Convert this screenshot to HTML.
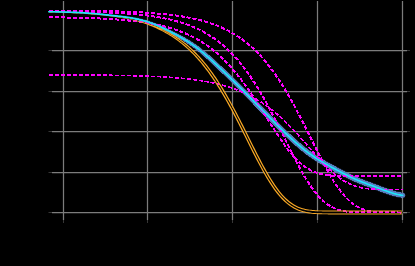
<!DOCTYPE html>
<html><head><meta charset="utf-8"><title>chart</title>
<style>html,body{margin:0;padding:0;background:#000;width:415px;height:266px;overflow:hidden;font-family:"Liberation Sans",sans-serif}</style></head>
<body>
<svg width="415" height="266" viewBox="0 0 415 266" style="position:absolute;left:0;top:0;display:block">
<rect width="415" height="266" fill="#000"/>
<line x1="63.5" y1="1" x2="63.5" y2="220" stroke="#7c7c7c" stroke-width="1.25"/>
<line x1="63.5" y1="220" x2="63.5" y2="223" stroke="#363636" stroke-width="1"/>
<line x1="147.5" y1="1" x2="147.5" y2="220" stroke="#7c7c7c" stroke-width="1.25"/>
<line x1="147.5" y1="220" x2="147.5" y2="223" stroke="#363636" stroke-width="1"/>
<line x1="232.5" y1="1" x2="232.5" y2="220" stroke="#7c7c7c" stroke-width="1.25"/>
<line x1="232.5" y1="220" x2="232.5" y2="223" stroke="#363636" stroke-width="1"/>
<line x1="317.5" y1="1" x2="317.5" y2="220" stroke="#7c7c7c" stroke-width="1.25"/>
<line x1="317.5" y1="220" x2="317.5" y2="223" stroke="#363636" stroke-width="1"/>
<line x1="402.5" y1="1" x2="402.5" y2="220" stroke="#7c7c7c" stroke-width="1.25"/>
<line x1="402.5" y1="220" x2="402.5" y2="223" stroke="#363636" stroke-width="1"/>
<line x1="52" y1="50.5" x2="407" y2="50.5" stroke="#7c7c7c" stroke-width="1.25"/>
<line x1="48.5" y1="50.5" x2="52" y2="50.5" stroke="#363636" stroke-width="1"/>
<line x1="407" y1="50.5" x2="410" y2="50.5" stroke="#363636" stroke-width="1"/>
<line x1="52" y1="91.5" x2="407" y2="91.5" stroke="#7c7c7c" stroke-width="1.25"/>
<line x1="48.5" y1="91.5" x2="52" y2="91.5" stroke="#363636" stroke-width="1"/>
<line x1="407" y1="91.5" x2="410" y2="91.5" stroke="#363636" stroke-width="1"/>
<line x1="52" y1="131.5" x2="407" y2="131.5" stroke="#7c7c7c" stroke-width="1.25"/>
<line x1="48.5" y1="131.5" x2="52" y2="131.5" stroke="#363636" stroke-width="1"/>
<line x1="407" y1="131.5" x2="410" y2="131.5" stroke="#363636" stroke-width="1"/>
<line x1="52" y1="172.5" x2="407" y2="172.5" stroke="#7c7c7c" stroke-width="1.25"/>
<line x1="48.5" y1="172.5" x2="52" y2="172.5" stroke="#363636" stroke-width="1"/>
<line x1="407" y1="172.5" x2="410" y2="172.5" stroke="#363636" stroke-width="1"/>
<line x1="52" y1="212.5" x2="407" y2="212.5" stroke="#7c7c7c" stroke-width="1.25"/>
<line x1="48.5" y1="212.5" x2="52" y2="212.5" stroke="#363636" stroke-width="1"/>
<line x1="407" y1="212.5" x2="410" y2="212.5" stroke="#363636" stroke-width="1"/>
<path d="M48.79,12.23 L50.27,12.26 L51.75,12.28 L53.23,12.31 L54.71,12.33 L56.19,12.36 L57.67,12.40 L59.15,12.43 L60.63,12.47 L62.11,12.50 L63.59,12.54 L65.07,12.59 L66.55,12.63 L68.03,12.68 L69.51,12.74 L70.99,12.79 L72.47,12.85 L73.95,12.92 L75.43,12.99 L76.91,13.06 L78.39,13.13 L79.86,13.21 L81.34,13.30 L82.82,13.39 L84.30,13.49 L85.78,13.59 L87.26,13.69 L88.74,13.80 L90.21,13.92 L91.69,14.04 L93.17,14.17 L94.65,14.30 L96.13,14.43 L97.61,14.57 L99.08,14.72 L100.56,14.87 L102.04,15.02 L103.52,15.18 L105.00,15.34 L106.48,15.50 L107.96,15.67 L109.44,15.83 L110.92,16.00 L112.40,16.17 L113.88,16.35 L115.36,16.52 L116.84,16.70 L118.31,16.88 L119.79,17.06 L121.27,17.25 L122.75,17.44 L124.23,17.64 L125.70,17.86 L127.17,18.09 L128.65,18.33 L130.12,18.59 L131.59,18.86 L133.05,19.14 L134.52,19.44 L135.99,19.76 L137.45,20.09 L138.92,20.44 L140.38,20.82 L141.84,21.21 L143.30,21.63 L144.76,22.07 L146.22,22.53 L147.68,23.02 L149.14,23.53 L150.60,24.06 L152.05,24.62 L153.51,25.21 L154.96,25.81 L156.42,26.44 L157.88,27.10 L159.33,27.77 L160.79,28.46 L162.24,29.18 L163.70,29.91 L165.16,30.65 L166.62,31.41 L168.08,32.19 L169.54,32.97 L171.00,33.77 L172.47,34.57 L173.93,35.39 L175.39,36.21 L176.85,37.04 L178.31,37.88 L179.76,38.73 L181.22,39.59 L182.67,40.47 L184.12,41.36 L185.57,42.27 L187.01,43.21 L188.46,44.16 L189.90,45.15 L191.34,46.16 L192.78,47.20 L194.21,48.28 L195.65,49.38 L197.09,50.53 L198.53,51.70 L199.98,52.89 L201.44,54.11 L202.90,55.36 L204.36,56.63 L205.82,57.93 L207.28,59.25 L208.75,60.58 L210.22,61.94 L211.69,63.30 L213.16,64.68 L214.63,66.06 L216.10,67.45 L217.57,68.85 L219.05,70.25 L220.52,71.65 L221.99,73.05 L223.46,74.46 L224.94,75.87 L226.41,77.29 L227.88,78.71 L229.35,80.13 L230.82,81.57 L232.29,83.01 L233.76,84.46 L235.23,85.92 L236.70,87.38 L238.17,88.86 L239.64,90.34 L241.11,91.82 L242.59,93.31 L244.06,94.81 L245.53,96.31 L247.00,97.82 L248.48,99.33 L249.95,100.84 L251.42,102.36 L252.89,103.88 L254.37,105.40 L255.84,106.92 L257.32,108.44 L258.80,109.96 L260.28,111.47 L261.76,112.98 L263.24,114.49 L264.72,116.00 L266.21,117.50 L267.69,119.00 L269.17,120.49 L270.65,121.99 L272.14,123.48 L273.62,124.96 L275.10,126.44 L276.59,127.91 L278.08,129.38 L279.56,130.83 L281.05,132.28 L282.54,133.72 L284.02,135.14 L285.51,136.55 L287.00,137.95 L288.49,139.34 L289.98,140.71 L291.47,142.06 L292.97,143.40 L294.46,144.73 L295.96,146.03 L297.45,147.31 L298.95,148.57 L300.45,149.81 L301.95,151.02 L303.45,152.21 L304.96,153.37 L306.46,154.50 L307.96,155.61 L309.47,156.69 L310.97,157.75 L312.47,158.77 L313.98,159.78 L315.49,160.75 L316.99,161.70 L318.49,162.63 L320.00,163.53 L321.50,164.41 L323.00,165.27 L324.50,166.12 L325.99,166.94 L327.48,167.76 L328.97,168.57 L330.45,169.37 L331.94,170.16 L333.42,170.96 L334.90,171.75 L336.38,172.54 L337.87,173.33 L339.35,174.11 L340.84,174.89 L342.33,175.67 L343.82,176.44 L345.31,177.20 L346.81,177.95 L348.31,178.69 L349.81,179.42 L351.31,180.12 L352.81,180.81 L354.32,181.48 L355.82,182.13 L357.33,182.77 L358.83,183.38 L360.33,183.97 L361.83,184.55 L363.33,185.12 L364.82,185.67 L366.31,186.22 L367.79,186.76 L369.27,187.30 L370.74,187.85 L372.22,188.39 L373.69,188.94 L375.16,189.50 L376.64,190.06 L378.12,190.62 L379.60,191.19 L381.08,191.76 L382.57,192.33 L384.06,192.89 L385.56,193.44 L387.07,193.98 L388.58,194.49 L390.10,194.99 L391.62,195.46 L393.15,195.90 L394.68,196.30 L396.22,196.67 L397.76,197.01 L399.30,197.30 L400.83,197.56 L402.34,197.78 L403.06,192.83 L401.60,192.62 L400.18,192.38 L398.76,192.11 L397.33,191.80 L395.91,191.46 L394.48,191.08 L393.05,190.67 L391.61,190.23 L390.16,189.76 L388.71,189.26 L387.26,188.75 L385.80,188.21 L384.33,187.66 L382.86,187.10 L381.38,186.54 L379.90,185.97 L378.42,185.40 L376.93,184.84 L375.44,184.28 L373.95,183.72 L372.46,183.17 L370.98,182.63 L369.50,182.09 L368.02,181.55 L366.54,181.01 L365.07,180.46 L363.61,179.91 L362.14,179.34 L360.68,178.77 L359.23,178.17 L357.77,177.56 L356.31,176.93 L354.86,176.29 L353.40,175.62 L351.94,174.93 L350.48,174.23 L349.02,173.51 L347.55,172.78 L346.08,172.03 L344.61,171.27 L343.14,170.50 L341.66,169.73 L340.19,168.95 L338.71,168.16 L337.23,167.38 L335.75,166.59 L334.27,165.80 L332.79,165.01 L331.32,164.21 L329.84,163.41 L328.37,162.61 L326.91,161.80 L325.44,160.97 L323.98,160.14 L322.52,159.28 L321.06,158.41 L319.60,157.51 L318.15,156.59 L316.69,155.65 L315.23,154.68 L313.78,153.69 L312.32,152.67 L310.86,151.62 L309.41,150.55 L307.95,149.45 L306.49,148.32 L305.03,147.17 L303.57,145.99 L302.10,144.79 L300.64,143.56 L299.18,142.30 L297.71,141.03 L296.24,139.73 L294.77,138.41 L293.30,137.08 L291.83,135.72 L290.36,134.36 L288.89,132.97 L287.42,131.58 L285.94,130.17 L284.47,128.75 L282.99,127.32 L281.52,125.87 L280.04,124.42 L278.57,122.96 L277.09,121.49 L275.61,120.01 L274.13,118.53 L272.65,117.04 L271.18,115.55 L269.70,114.05 L268.22,112.55 L266.74,111.05 L265.26,109.55 L263.78,108.04 L262.30,106.53 L260.81,105.02 L259.33,103.51 L257.84,102.01 L256.35,100.50 L254.87,98.99 L253.38,97.48 L251.89,95.97 L250.40,94.47 L248.91,92.97 L247.42,91.48 L245.93,89.99 L244.44,88.50 L242.95,87.02 L241.46,85.55 L239.97,84.08 L238.48,82.62 L236.99,81.17 L235.50,79.72 L234.01,78.28 L232.52,76.85 L231.03,75.43 L229.53,74.01 L228.04,72.60 L226.56,71.20 L225.07,69.80 L223.58,68.41 L222.09,67.02 L220.60,65.63 L219.11,64.24 L217.62,62.86 L216.13,61.48 L214.64,60.11 L213.15,58.74 L211.66,57.39 L210.16,56.05 L208.66,54.72 L207.16,53.41 L205.66,52.13 L204.16,50.86 L202.65,49.63 L201.14,48.42 L199.62,47.26 L198.10,46.14 L196.58,45.05 L195.05,43.99 L193.53,42.97 L192.01,41.98 L190.49,41.02 L188.97,40.09 L187.45,39.19 L185.94,38.32 L184.43,37.46 L182.92,36.63 L181.41,35.81 L179.91,35.00 L178.40,34.21 L176.90,33.42 L175.40,32.64 L173.90,31.87 L172.40,31.11 L170.90,30.36 L169.40,29.61 L167.90,28.88 L166.40,28.16 L164.89,27.45 L163.39,26.76 L161.89,26.09 L160.38,25.43 L158.88,24.80 L157.37,24.18 L155.86,23.59 L154.36,23.02 L152.85,22.48 L151.35,21.96 L149.84,21.46 L148.34,20.98 L146.84,20.53 L145.33,20.11 L143.83,19.71 L142.33,19.33 L140.83,18.97 L139.34,18.64 L137.84,18.33 L136.34,18.04 L134.85,17.76 L133.35,17.51 L131.86,17.27 L130.37,17.04 L128.88,16.83 L127.39,16.63 L125.90,16.44 L124.41,16.26 L122.93,16.06 L121.44,15.88 L119.96,15.70 L118.48,15.52 L116.99,15.35 L115.51,15.18 L114.03,15.01 L112.55,14.85 L111.07,14.69 L109.58,14.52 L108.10,14.36 L106.62,14.21 L105.14,14.05 L103.65,13.90 L102.17,13.75 L100.69,13.60 L99.21,13.46 L97.72,13.32 L96.24,13.19 L94.76,13.06 L93.27,12.94 L91.79,12.82 L90.31,12.70 L88.83,12.60 L87.34,12.49 L85.86,12.39 L84.38,12.30 L82.89,12.21 L81.41,12.13 L79.93,12.05 L78.44,11.98 L76.96,11.91 L75.48,11.85 L74.00,11.79 L72.51,11.73 L71.03,11.68 L69.55,11.63 L68.07,11.58 L66.59,11.54 L65.10,11.50 L63.62,11.47 L62.14,11.43 L60.66,11.40 L59.18,11.37 L57.69,11.35 L56.21,11.32 L54.73,11.30 L53.25,11.28 L51.77,11.26 L50.29,11.25 L48.81,11.23Z" fill="#577bbd" stroke="#577bbd" stroke-width="0.4" stroke-linejoin="round" shape-rendering="crispEdges"/>
<circle cx="402.70" cy="195.30" r="2.5" fill="#577bbd"/>
<path d="M48.80,12.20 L50.28,12.24 L51.76,12.28 L53.24,12.32 L54.72,12.36 L56.20,12.40 L57.68,12.45 L59.17,12.50 L60.65,12.54 L62.13,12.60 L63.61,12.65 L65.09,12.70 L66.57,12.76 L68.05,12.82 L69.53,12.88 L71.01,12.95 L72.49,13.02 L73.97,13.09 L75.45,13.16 L76.93,13.23 L78.42,13.31 L79.90,13.40 L81.38,13.48 L82.86,13.57 L84.34,13.66 L85.82,13.76 L87.30,13.86 L88.78,13.96 L90.26,14.07 L91.74,14.19 L93.22,14.30 L94.70,14.43 L96.18,14.55 L97.66,14.69 L99.15,14.82 L100.63,14.97 L102.11,15.12 L103.59,15.27 L105.07,15.43 L106.55,15.60 L108.03,15.77 L109.51,15.96 L110.99,16.14 L112.47,16.34 L113.95,16.55 L115.43,16.76 L116.91,16.98 L118.40,17.21 L119.88,17.45 L121.36,17.70 L122.84,17.95 L124.32,18.22 L125.80,18.50 L127.28,18.79 L128.76,19.09 L130.24,19.41 L131.72,19.73 L133.20,20.07 L134.68,20.42 L136.16,20.79 L137.65,21.17 L139.13,21.56 L140.61,21.97 L142.09,22.40 L143.57,22.84 L145.05,23.30 L146.53,23.78 L148.01,24.27 L149.49,24.78 L150.97,25.32 L152.45,25.87 L153.93,26.45 L155.41,27.04 L156.89,27.66 L158.38,28.31 L159.86,28.97 L161.33,29.68 L162.80,30.42 L164.27,31.18 L165.74,31.97 L167.21,32.78 L168.68,33.63 L170.15,34.50 L171.62,35.41 L173.08,36.35 L174.55,37.31 L176.02,38.32 L177.48,39.35 L178.95,40.42 L180.41,41.53 L181.88,42.68 L183.34,43.86 L184.81,45.08 L186.27,46.34 L187.74,47.63 L189.21,48.97 L190.68,50.35 L192.15,51.78 L193.62,53.24 L195.08,54.76 L196.55,56.32 L198.02,57.93 L199.49,59.59 L200.95,61.30 L202.42,63.05 L203.89,64.86 L205.35,66.72 L206.82,68.62 L208.29,70.58 L209.76,72.60 L211.23,74.65 L212.71,76.76 L214.19,78.93 L215.67,81.14 L217.14,83.41 L218.62,85.73 L220.10,88.10 L221.58,90.52 L223.06,92.99 L224.53,95.51 L226.01,98.08 L227.49,100.69 L228.97,103.34 L230.45,106.04 L231.93,108.78 L233.41,111.56 L234.89,114.37 L236.37,117.22 L237.85,120.09 L239.33,122.99 L240.81,125.92 L242.29,128.86 L243.77,131.82 L245.25,134.79 L246.73,137.76 L248.21,140.74 L249.69,143.72 L251.17,146.68 L252.65,149.64 L254.13,152.57 L255.62,155.48 L257.10,158.36 L258.58,161.21 L260.06,164.02 L261.55,166.77 L263.03,169.48 L264.51,172.13 L266.00,174.72 L267.48,177.24 L268.96,179.69 L270.45,182.06 L271.94,184.35 L273.42,186.55 L274.91,188.67 L276.40,190.69 L277.89,192.62 L279.38,194.45 L280.87,196.18 L282.36,197.82 L283.85,199.35 L285.34,200.79 L286.82,202.15 L288.30,203.40 L289.79,204.56 L291.28,205.63 L292.77,206.61 L294.26,207.49 L295.76,208.30 L297.26,209.02 L298.76,209.67 L300.26,210.25 L301.77,210.76 L303.27,211.21 L304.77,211.60 L306.28,211.94 L307.78,212.24 L309.28,212.49 L310.78,212.71 L312.28,212.88 L313.78,213.01 L315.27,213.12 L316.76,213.21 L318.26,213.28 L319.75,213.33 L321.23,213.37 L322.72,213.41 L324.21,213.43 L325.69,213.45 L327.17,213.47 L328.66,213.48 L330.14,213.48 L331.62,213.49 L333.10,213.49 L334.58,213.49 L336.07,213.50 L337.55,213.50 L339.03,213.50 L340.51,213.50 L341.99,213.50 L343.47,213.50 L344.95,213.50 L346.43,213.50 L347.91,213.50 L349.39,213.50 L350.87,213.50 L352.35,213.50 L353.84,213.50 L355.32,213.50 L356.80,213.50 L358.28,213.50 L359.76,213.50 L361.24,213.50 L362.72,213.50 L364.20,213.50 L365.68,213.50 L367.16,213.50 L368.64,213.50 L370.12,213.50 L371.60,213.50 L373.08,213.50 L374.57,213.50 L376.05,213.50 L377.53,213.50 L379.01,213.50 L380.49,213.50 L381.97,213.50 L383.45,213.50 L384.93,213.50 L386.41,213.50 L387.89,213.50 L389.37,213.50 L390.85,213.50 L392.33,213.50 L393.82,213.50 L395.30,213.50 L396.78,213.50 L398.26,213.50 L399.74,213.50 L401.22,213.50 L402.70,213.50 L402.70,211.50 L401.22,211.50 L399.74,211.50 L398.26,211.50 L396.78,211.50 L395.30,211.50 L393.82,211.50 L392.33,211.50 L390.85,211.50 L389.37,211.50 L387.89,211.50 L386.41,211.50 L384.93,211.50 L383.45,211.50 L381.97,211.50 L380.49,211.50 L379.01,211.50 L377.53,211.50 L376.05,211.50 L374.57,211.50 L373.08,211.50 L371.60,211.50 L370.12,211.50 L368.64,211.50 L367.16,211.50 L365.68,211.50 L364.20,211.50 L362.72,211.50 L361.24,211.50 L359.76,211.50 L358.28,211.50 L356.80,211.50 L355.32,211.50 L353.84,211.50 L352.35,211.50 L350.87,211.50 L349.39,211.50 L347.91,211.50 L346.43,211.50 L344.95,211.50 L343.47,211.50 L341.99,211.50 L340.51,211.50 L339.03,211.50 L337.55,211.50 L336.07,211.50 L334.59,211.49 L333.11,211.49 L331.63,211.49 L330.15,211.48 L328.67,211.48 L327.19,211.47 L325.71,211.45 L324.23,211.43 L322.76,211.41 L321.28,211.37 L319.81,211.33 L318.34,211.28 L316.87,211.21 L315.40,211.13 L313.93,211.02 L312.47,210.89 L311.01,210.76 L309.54,210.59 L308.08,210.40 L306.62,210.16 L305.17,209.88 L303.71,209.55 L302.25,209.17 L300.79,208.72 L299.33,208.21 L297.87,207.63 L296.41,206.98 L294.95,206.25 L293.48,205.43 L292.01,204.53 L290.54,203.53 L289.06,202.44 L287.58,201.25 L286.10,199.97 L284.63,198.57 L283.16,197.06 L281.69,195.45 L280.22,193.75 L278.75,191.94 L277.28,190.03 L275.80,188.03 L274.33,185.93 L272.85,183.74 L271.38,181.47 L269.90,179.11 L268.42,176.68 L266.95,174.17 L265.47,171.59 L263.99,168.95 L262.51,166.25 L261.03,163.50 L259.55,160.70 L258.07,157.86 L256.60,154.98 L255.12,152.07 L253.64,149.14 L252.16,146.19 L250.67,143.23 L249.19,140.25 L247.71,137.27 L246.23,134.30 L244.75,131.33 L243.27,128.37 L241.79,125.42 L240.31,122.50 L238.83,119.59 L237.34,116.71 L235.86,113.86 L234.38,111.05 L232.90,108.26 L231.42,105.52 L229.93,102.81 L228.45,100.15 L226.97,97.53 L225.49,94.96 L224.00,92.43 L222.52,89.95 L221.04,87.52 L219.55,85.14 L218.07,82.81 L216.58,80.54 L215.10,78.31 L213.62,76.14 L212.13,74.02 L210.65,71.95 L209.15,69.94 L207.66,67.98 L206.17,66.08 L204.67,64.22 L203.18,62.42 L201.68,60.67 L200.19,58.97 L198.69,57.32 L197.20,55.71 L195.71,54.16 L194.21,52.65 L192.72,51.19 L191.23,49.77 L189.73,48.40 L188.24,47.07 L186.75,45.79 L185.25,44.54 L183.75,43.35 L182.26,42.19 L180.76,41.07 L179.26,39.99 L177.77,38.95 L176.27,37.94 L174.78,36.97 L173.28,36.03 L171.79,35.13 L170.29,34.26 L168.80,33.42 L167.31,32.61 L165.82,31.82 L164.33,31.07 L162.84,30.35 L161.35,29.65 L159.86,28.97 L158.38,28.31 L156.89,27.66 L155.41,27.04 L153.93,26.45 L152.45,25.87 L150.97,25.32 L149.49,24.78 L148.01,24.27 L146.53,23.78 L145.05,23.30 L143.57,22.84 L142.09,22.40 L140.61,21.97 L139.13,21.56 L137.65,21.17 L136.16,20.79 L134.68,20.42 L133.20,20.07 L131.72,19.73 L130.24,19.41 L128.76,19.09 L127.28,18.79 L125.80,18.50 L124.32,18.22 L122.84,17.95 L121.36,17.70 L119.88,17.45 L118.40,17.21 L116.91,16.98 L115.43,16.76 L113.95,16.55 L112.47,16.34 L110.99,16.14 L109.51,15.96 L108.03,15.77 L106.55,15.60 L105.07,15.43 L103.59,15.27 L102.11,15.12 L100.63,14.97 L99.15,14.82 L97.66,14.69 L96.18,14.55 L94.70,14.43 L93.22,14.30 L91.74,14.19 L90.26,14.07 L88.78,13.96 L87.30,13.86 L85.82,13.76 L84.34,13.66 L82.86,13.57 L81.38,13.48 L79.90,13.40 L78.42,13.31 L76.93,13.23 L75.45,13.16 L73.97,13.09 L72.49,13.02 L71.01,12.95 L69.53,12.88 L68.05,12.82 L66.57,12.76 L65.09,12.70 L63.61,12.65 L62.13,12.60 L60.65,12.54 L59.17,12.50 L57.68,12.45 L56.20,12.40 L54.72,12.36 L53.24,12.32 L51.76,12.28 L50.28,12.24 L48.80,12.20Z" fill="#000" stroke="none"/>
<path d="M48.80,10.56 L50.28,10.57 L51.76,10.58 L53.24,10.58 L54.72,10.59 L56.20,10.60 L57.68,10.61 L59.17,10.62 L60.65,10.63 L62.13,10.64 L63.61,10.64 L65.09,10.65 L66.57,10.67 L68.05,10.68 L69.53,10.69 L71.01,10.70 L72.49,10.71 L73.97,10.72 L75.45,10.74 L76.93,10.75 L78.42,10.77 L79.90,10.78 L81.38,10.80 L82.86,10.81 L84.34,10.83 L85.82,10.85 L87.30,10.87 L88.78,10.88 L90.26,10.90 L91.74,10.93 L93.22,10.95 L94.70,10.97 L96.18,10.99 L97.66,11.02 L99.15,11.04 L100.63,11.07 L102.11,11.10 L103.59,11.12 L105.07,11.15 L106.55,11.18 L108.03,11.22 L109.51,11.25 L110.99,11.29 L112.47,11.32 L113.95,11.36 L115.43,11.40 L116.91,11.44 L118.40,11.48 L119.88,11.53 L121.36,11.57 L122.84,11.62 L124.32,11.67 L125.80,11.72 L127.28,11.78 L128.76,11.83 L130.24,11.89 L131.72,11.95 L133.20,12.02 L134.68,12.08 L136.16,12.15 L137.65,12.22 L139.13,12.30 L140.61,12.37 L142.09,12.45 L143.57,12.54 L145.05,12.63 L146.53,12.72 L148.01,12.81 L149.49,12.91 L150.97,13.01 L152.45,13.12 L153.93,13.23 L155.41,13.34 L156.89,13.46 L158.38,13.59 L159.86,13.72 L161.34,13.85 L162.82,13.99 L164.30,14.14 L165.78,14.29 L167.26,14.45 L168.74,14.61 L170.22,14.79 L171.70,14.96 L173.18,15.15 L174.66,15.34 L176.14,15.54 L177.63,15.75 L179.11,15.97 L180.59,16.19 L182.07,16.43 L183.55,16.67 L185.03,16.92 L186.51,17.19 L187.99,17.46 L189.47,17.74 L190.95,18.04 L192.43,18.35 L193.91,18.67 L195.39,19.00 L196.88,19.34 L198.36,19.70 L199.84,20.08 L201.32,20.46 L202.80,20.86 L204.28,21.28 L205.76,21.72 L207.24,22.17 L208.72,22.64 L210.20,23.12 L211.68,23.63 L213.16,24.15 L214.64,24.69 L216.13,25.26 L217.61,25.84 L219.09,26.45 L220.57,27.08 L222.05,27.74 L223.53,28.42 L225.01,29.12 L226.49,29.85 L227.97,30.61 L229.45,31.39 L230.93,32.21 L232.41,33.05 L233.89,33.92 L235.37,34.83 L236.86,35.77 L238.34,36.74 L239.82,37.74 L241.30,38.78 L242.78,39.86 L244.26,40.97 L245.74,42.12 L247.22,43.31 L248.70,44.54 L250.18,45.81 L251.66,47.13 L253.14,48.48 L254.62,49.88 L256.11,51.33 L257.59,52.82 L259.07,54.35 L260.55,55.94 L262.03,57.57 L263.51,59.25 L264.99,60.98 L266.47,62.76 L267.95,64.59 L269.43,66.48 L270.91,68.41 L272.39,70.40 L273.87,72.44 L275.36,74.53 L276.84,76.68 L278.32,78.88 L279.80,81.13 L281.28,83.43 L282.76,85.78 L284.24,88.19 L285.72,90.64 L287.20,93.15 L288.68,95.70 L290.16,98.30 L291.64,100.94 L293.12,103.63 L294.61,106.36 L296.09,109.13 L297.57,111.94 L299.05,114.78 L300.53,117.65 L302.01,120.55 L303.49,123.48 L304.97,126.42 L306.45,129.39 L307.93,132.36 L309.41,135.35 L310.89,138.34 L312.37,141.33 L313.85,144.32 L315.34,147.29 L316.82,150.25 L318.30,153.19 L319.78,156.10 L321.26,158.98 L322.74,161.82 L324.22,164.61 L325.70,167.36 L327.18,170.06 L328.66,172.69 L330.14,175.26 L331.62,177.76 L333.10,180.18 L334.59,182.52 L336.07,184.78 L337.55,186.95 L339.03,189.03 L340.51,191.02 L341.99,192.91 L343.47,194.70 L344.95,196.39 L346.43,197.97 L347.91,199.46 L349.39,200.85 L350.87,202.14 L352.35,203.33 L353.84,204.42 L355.32,205.42 L356.80,206.33 L358.28,207.15 L359.76,207.89 L361.24,208.56 L362.72,209.15 L364.20,209.66 L365.68,210.12 L367.16,210.52 L368.64,210.86 L370.12,211.15 L371.60,211.40 L373.08,211.62 L374.57,211.79 L376.05,211.94 L377.53,212.06 L379.01,212.16 L380.49,212.24 L381.97,212.30 L383.45,212.35 L384.93,212.39 L386.41,212.42 L387.89,212.44 L389.37,212.46 L390.85,212.47 L392.33,212.48 L393.82,212.49 L395.30,212.49 L396.78,212.49 L398.26,212.50 L399.74,212.50 L401.22,212.50 L402.70,212.50" fill="none" stroke="#ff00ff" stroke-width="2.0" stroke-dasharray="4.2,1.8" stroke-linejoin="round" shape-rendering="crispEdges"/>
<path d="M48.80,11.13 L50.28,11.15 L51.76,11.16 L53.24,11.18 L54.72,11.19 L56.20,11.21 L57.68,11.22 L59.17,11.24 L60.65,11.26 L62.13,11.28 L63.61,11.30 L65.09,11.32 L66.57,11.34 L68.05,11.36 L69.53,11.38 L71.01,11.41 L72.49,11.43 L73.97,11.46 L75.45,11.49 L76.93,11.51 L78.42,11.54 L79.90,11.57 L81.38,11.61 L82.86,11.64 L84.34,11.67 L85.82,11.71 L87.30,11.75 L88.78,11.78 L90.26,11.82 L91.74,11.87 L93.22,11.91 L94.70,11.96 L96.18,12.00 L97.66,12.05 L99.15,12.10 L100.63,12.16 L102.11,12.21 L103.59,12.27 L105.07,12.33 L106.55,12.39 L108.03,12.46 L109.51,12.53 L110.99,12.60 L112.47,12.67 L113.95,12.75 L115.43,12.83 L116.91,12.91 L118.40,12.99 L119.88,13.08 L121.36,13.18 L122.84,13.27 L124.32,13.37 L125.80,13.48 L127.28,13.59 L128.76,13.70 L130.24,13.82 L131.72,13.94 L133.20,14.07 L134.68,14.20 L136.16,14.34 L137.65,14.49 L139.13,14.64 L140.61,14.79 L142.09,14.96 L143.57,15.12 L145.05,15.30 L146.53,15.48 L148.01,15.67 L149.49,15.87 L150.97,16.08 L152.45,16.29 L153.93,16.51 L155.41,16.74 L156.89,16.98 L158.38,17.23 L159.86,17.49 L161.34,17.76 L162.82,18.04 L164.30,18.33 L165.78,18.64 L167.26,18.95 L168.74,19.28 L170.22,19.62 L171.70,19.97 L173.18,20.34 L174.66,20.72 L176.14,21.12 L177.63,21.53 L179.11,21.96 L180.59,22.40 L182.07,22.87 L183.55,23.35 L185.03,23.84 L186.51,24.36 L187.99,24.90 L189.47,25.45 L190.95,26.03 L192.43,26.63 L193.91,27.26 L195.39,27.90 L196.88,28.57 L198.36,29.27 L199.84,29.99 L201.32,30.74 L202.80,31.51 L204.28,32.31 L205.76,33.15 L207.24,34.01 L208.72,34.90 L210.20,35.83 L211.68,36.78 L213.16,37.78 L214.64,38.80 L216.13,39.87 L217.61,40.97 L219.09,42.10 L220.57,43.28 L222.05,44.49 L223.53,45.75 L225.01,47.05 L226.49,48.39 L227.97,49.77 L229.45,51.20 L230.93,52.67 L232.41,54.19 L233.89,55.76 L235.37,57.37 L236.86,59.03 L238.34,60.75 L239.82,62.51 L241.30,64.32 L242.78,66.19 L244.26,68.10 L245.74,70.07 L247.22,72.09 L248.70,74.16 L250.18,76.29 L251.66,78.46 L253.14,80.69 L254.62,82.97 L256.11,85.31 L257.59,87.69 L259.07,90.13 L260.55,92.61 L262.03,95.15 L263.51,97.73 L264.99,100.35 L266.47,103.02 L267.95,105.73 L269.43,108.49 L270.91,111.28 L272.39,114.10 L273.87,116.96 L275.36,119.84 L276.84,122.76 L278.32,125.69 L279.80,128.64 L281.28,131.61 L282.76,134.59 L284.24,137.57 L285.72,140.56 L287.20,143.54 L288.68,146.51 L290.16,149.47 L291.64,152.41 L293.12,155.32 L294.61,158.21 L296.09,161.05 L297.57,163.86 L299.05,166.62 L300.53,169.32 L302.01,171.97 L303.49,174.56 L304.97,177.07 L306.45,179.51 L307.93,181.87 L309.41,184.16 L310.89,186.35 L312.37,188.45 L313.85,190.46 L315.34,192.38 L316.82,194.19 L318.30,195.91 L319.78,197.53 L321.26,199.04 L322.74,200.46 L324.22,201.78 L325.70,202.99 L327.18,204.11 L328.66,205.14 L330.14,206.07 L331.62,206.92 L333.10,207.69 L334.59,208.37 L336.07,208.98 L337.55,209.52 L339.03,209.99 L340.51,210.41 L341.99,210.76 L343.47,211.07 L344.95,211.33 L346.43,211.56 L347.91,211.74 L349.39,211.90 L350.87,212.03 L352.35,212.13 L353.84,212.21 L355.32,212.28 L356.80,212.34 L358.28,212.38 L359.76,212.41 L361.24,212.43 L362.72,212.45 L364.20,212.47 L365.68,212.48 L367.16,212.48 L368.64,212.49 L370.12,212.49 L371.60,212.50" fill="none" stroke="#ff00ff" stroke-width="2.0" stroke-dasharray="4.2,1.8" stroke-linejoin="round" shape-rendering="crispEdges"/>
<path d="M48.80,17.23 L50.28,17.25 L51.76,17.27 L53.24,17.28 L54.72,17.30 L56.20,17.32 L57.68,17.35 L59.17,17.37 L60.65,17.39 L62.13,17.42 L63.61,17.44 L65.09,17.47 L66.57,17.49 L68.05,17.52 L69.53,17.55 L71.01,17.58 L72.49,17.62 L73.97,17.65 L75.45,17.68 L76.93,17.72 L78.42,17.76 L79.90,17.80 L81.38,17.84 L82.86,17.88 L84.34,17.92 L85.82,17.97 L87.30,18.02 L88.78,18.07 L90.26,18.12 L91.74,18.17 L93.22,18.23 L94.70,18.29 L96.18,18.35 L97.66,18.41 L99.15,18.48 L100.63,18.55 L102.11,18.62 L103.59,18.69 L105.07,18.77 L106.55,18.85 L108.03,18.93 L109.51,19.02 L110.99,19.11 L112.47,19.21 L113.95,19.30 L115.43,19.41 L116.91,19.51 L118.40,19.62 L119.88,19.74 L121.36,19.86 L122.84,19.98 L124.32,20.11 L125.80,20.24 L127.28,20.38 L128.76,20.53 L130.24,20.68 L131.72,20.84 L133.20,21.00 L134.68,21.17 L136.16,21.35 L137.65,21.53 L139.13,21.72 L140.61,21.92 L142.09,22.13 L143.57,22.34 L145.05,22.57 L146.53,22.80 L148.01,23.04 L149.49,23.29 L150.97,23.55 L152.45,23.82 L153.93,24.10 L155.41,24.40 L156.89,24.70 L158.38,25.02 L159.86,25.34 L161.34,25.69 L162.82,26.04 L164.30,26.41 L165.78,26.79 L167.26,27.19 L168.74,27.60 L170.22,28.02 L171.70,28.47 L173.18,28.93 L174.66,29.41 L176.14,29.90 L177.63,30.41 L179.11,30.95 L180.59,31.50 L182.07,32.07 L183.55,32.67 L185.03,33.29 L186.51,33.92 L187.99,34.59 L189.47,35.27 L190.95,35.98 L192.43,36.72 L193.91,37.48 L195.39,38.27 L196.88,39.09 L198.36,39.93 L199.84,40.81 L201.32,41.71 L202.80,42.65 L204.28,43.61 L205.76,44.61 L207.24,45.64 L208.72,46.71 L210.20,47.81 L211.68,48.94 L213.16,50.11 L214.64,51.32 L216.13,52.57 L217.61,53.85 L219.09,55.17 L220.57,56.53 L222.05,57.93 L223.53,59.37 L225.01,60.85 L226.49,62.37 L227.97,63.93 L229.45,65.54 L230.93,67.18 L232.41,68.87 L233.89,70.60 L235.37,72.36 L236.86,74.17 L238.34,76.03 L239.82,77.92 L241.30,79.85 L242.78,81.82 L244.26,83.83 L245.74,85.87 L247.22,87.95 L248.70,90.07 L250.18,92.21 L251.66,94.39 L253.14,96.60 L254.62,98.84 L256.11,101.10 L257.59,103.38 L259.07,105.68 L260.55,108.00 L262.03,110.34 L263.51,112.68 L264.99,115.03 L266.47,117.39 L267.95,119.74 L269.43,122.09 L270.91,124.44 L272.39,126.77 L273.87,129.09 L275.36,131.38 L276.84,133.65 L278.32,135.89 L279.80,138.10 L281.28,140.27 L282.76,142.39 L284.24,144.47 L285.72,146.50 L287.20,148.47 L288.68,150.39 L290.16,152.24 L291.64,154.02 L293.12,155.74 L294.61,157.38 L296.09,158.95 L297.57,160.44 L299.05,161.86 L300.53,163.20 L302.01,164.46 L303.49,165.64 L304.97,166.74 L306.45,167.76 L307.93,168.70 L309.41,169.57 L310.89,170.36 L312.37,171.08 L313.85,171.74 L315.34,172.33 L316.82,172.85 L318.30,173.32 L319.78,173.73 L321.26,174.10 L322.74,174.41 L324.22,174.69 L325.70,174.92 L327.18,175.12 L328.66,175.29 L330.14,175.43 L331.62,175.55 L333.10,175.65 L334.59,175.72 L336.07,175.79 L337.55,175.84 L339.03,175.88 L340.51,175.91 L341.99,175.93 L343.47,175.95 L344.95,175.97 L346.43,175.98 L347.91,175.98 L349.39,175.99 L350.87,175.99 L352.35,175.99 L353.84,176.00 L355.32,176.00 L356.80,176.00 L358.28,176.00 L359.76,176.00 L361.24,176.00 L362.72,176.00 L364.20,176.00 L365.68,176.00 L367.16,176.00 L368.64,176.00 L370.12,176.00 L371.60,176.00 L373.08,176.00 L374.57,176.00 L376.05,176.00 L377.53,176.00 L379.01,176.00 L380.49,176.00 L381.97,176.00 L383.45,176.00 L384.93,176.00 L386.41,176.00 L387.89,176.00 L389.37,176.00 L390.85,176.00 L392.33,176.00 L393.82,176.00 L395.30,176.00 L396.78,176.00 L398.26,176.00 L399.74,176.00 L401.22,176.00 L402.70,176.00" fill="none" stroke="#ff00ff" stroke-width="2.0" stroke-dasharray="4.2,1.8" stroke-linejoin="round" shape-rendering="crispEdges"/>
<path d="M48.80,74.85 L50.28,74.85 L51.76,74.86 L53.24,74.86 L54.72,74.86 L56.20,74.87 L57.68,74.87 L59.17,74.88 L60.65,74.88 L62.13,74.89 L63.61,74.90 L65.09,74.90 L66.57,74.91 L68.05,74.91 L69.53,74.92 L71.01,74.93 L72.49,74.94 L73.97,74.94 L75.45,74.95 L76.93,74.96 L78.42,74.97 L79.90,74.98 L81.38,74.99 L82.86,75.00 L84.34,75.01 L85.82,75.02 L87.30,75.03 L88.78,75.04 L90.26,75.05 L91.74,75.06 L93.22,75.08 L94.70,75.09 L96.18,75.10 L97.66,75.12 L99.15,75.13 L100.63,75.15 L102.11,75.16 L103.59,75.18 L105.07,75.20 L106.55,75.22 L108.03,75.24 L109.51,75.26 L110.99,75.28 L112.47,75.30 L113.95,75.32 L115.43,75.35 L116.91,75.37 L118.40,75.39 L119.88,75.42 L121.36,75.45 L122.84,75.48 L124.32,75.51 L125.80,75.54 L127.28,75.57 L128.76,75.60 L130.24,75.64 L131.72,75.68 L133.20,75.71 L134.68,75.75 L136.16,75.79 L137.65,75.84 L139.13,75.88 L140.61,75.93 L142.09,75.97 L143.57,76.02 L145.05,76.08 L146.53,76.13 L148.01,76.19 L149.49,76.25 L150.97,76.31 L152.45,76.37 L153.93,76.44 L155.41,76.50 L156.89,76.58 L158.38,76.65 L159.86,76.73 L161.34,76.81 L162.82,76.89 L164.30,76.98 L165.78,77.07 L167.26,77.16 L168.74,77.26 L170.22,77.36 L171.70,77.47 L173.18,77.58 L174.66,77.69 L176.14,77.81 L177.63,77.94 L179.11,78.07 L180.59,78.20 L182.07,78.34 L183.55,78.49 L185.03,78.64 L186.51,78.79 L187.99,78.96 L189.47,79.12 L190.95,79.30 L192.43,79.48 L193.91,79.67 L195.39,79.87 L196.88,80.08 L198.36,80.29 L199.84,80.51 L201.32,80.74 L202.80,80.98 L204.28,81.23 L205.76,81.49 L207.24,81.76 L208.72,82.03 L210.20,82.32 L211.68,82.62 L213.16,82.93 L214.64,83.26 L216.13,83.59 L217.61,83.94 L219.09,84.30 L220.57,84.68 L222.05,85.07 L223.53,85.47 L225.01,85.89 L226.49,86.32 L227.97,86.77 L229.45,87.23 L230.93,87.72 L232.41,88.22 L233.89,88.73 L235.37,89.27 L236.86,89.83 L238.34,90.40 L239.82,90.99 L241.30,91.61 L242.78,92.25 L244.26,92.90 L245.74,93.59 L247.22,94.29 L248.70,95.02 L250.18,95.77 L251.66,96.54 L253.14,97.34 L254.62,98.17 L256.11,99.02 L257.59,99.90 L259.07,100.80 L260.55,101.74 L262.03,102.70 L263.51,103.68 L264.99,104.70 L266.47,105.75 L267.95,106.82 L269.43,107.93 L270.91,109.06 L272.39,110.23 L273.87,111.42 L275.36,112.65 L276.84,113.90 L278.32,115.19 L279.80,116.50 L281.28,117.84 L282.76,119.22 L284.24,120.62 L285.72,122.04 L287.20,123.50 L288.68,124.98 L290.16,126.49 L291.64,128.02 L293.12,129.57 L294.61,131.15 L296.09,132.75 L297.57,134.37 L299.05,136.00 L300.53,137.65 L302.01,139.31 L303.49,140.99 L304.97,142.67 L306.45,144.36 L307.93,146.06 L309.41,147.76 L310.89,149.46 L312.37,151.15 L313.85,152.84 L315.34,154.51 L316.82,156.18 L318.30,157.83 L319.78,159.46 L321.26,161.07 L322.74,162.65 L324.22,164.20 L325.70,165.73 L327.18,167.21 L328.66,168.66 L330.14,170.07 L331.62,171.44 L333.10,172.76 L334.59,174.03 L336.07,175.25 L337.55,176.42 L339.03,177.54 L340.51,178.60 L341.99,179.60 L343.47,180.55 L344.95,181.44 L346.43,182.27 L347.91,183.05 L349.39,183.77 L350.87,184.43 L352.35,185.04 L353.84,185.60 L355.32,186.10 L356.80,186.56 L358.28,186.97 L359.76,187.34 L361.24,187.66 L362.72,187.95 L364.20,188.20 L365.68,188.42 L367.16,188.61 L368.64,188.77 L370.12,188.91 L371.60,189.02 L373.08,189.12 L374.57,189.20 L376.05,189.26 L377.53,189.32 L379.01,189.36 L380.49,189.39 L381.97,189.42 L383.45,189.44 L384.93,189.46 L386.41,189.47 L387.89,189.48 L389.37,189.48 L390.85,189.49 L392.33,189.49 L393.82,189.49 L395.30,189.50 L396.78,189.50 L398.26,189.50 L399.74,189.50 L401.22,189.50 L402.70,189.50" fill="none" stroke="#ff00ff" stroke-width="1.6" stroke-dasharray="4.2,1.8" stroke-linejoin="round" shape-rendering="crispEdges"/>
<path d="M48.80,12.35 L50.28,12.39 L51.76,12.43 L53.24,12.47 L54.72,12.52 L56.20,12.56 L57.68,12.61 L59.16,12.66 L60.64,12.71 L62.12,12.76 L63.60,12.82 L65.08,12.87 L66.56,12.93 L68.04,12.99 L69.52,13.06 L71.00,13.12 L72.48,13.19 L73.96,13.27 L75.44,13.34 L76.92,13.42 L78.41,13.50 L79.89,13.58 L81.37,13.67 L82.85,13.76 L84.33,13.85 L85.81,13.95 L87.29,14.05 L88.77,14.16 L90.25,14.27 L91.73,14.39 L93.21,14.50 L94.69,14.63 L96.17,14.76 L97.65,14.89 L99.13,15.03 L100.61,15.18 L102.09,15.33 L103.57,15.48 L105.04,15.65 L106.52,15.82 L108.00,15.99 L109.48,16.17 L110.96,16.37 L112.44,16.56 L113.92,16.77 L115.40,16.98 L116.88,17.21 L118.36,17.44 L119.84,17.68 L121.32,17.93 L122.80,18.19 L124.28,18.46 L125.75,18.74 L127.23,19.03 L128.71,19.33 L130.19,19.64 L131.67,19.97 L133.15,20.31 L134.62,20.66 L136.10,21.06 L137.56,21.48 L139.03,21.92 L140.49,22.37 L141.96,22.84 L143.42,23.32 L144.89,23.82 L146.35,24.33 L147.81,24.87 L149.27,25.42 L150.72,26.00 L152.18,26.59 L153.63,27.20 L155.09,27.84 L156.54,28.50 L157.99,29.18 L159.44,29.88 L160.90,30.59 L162.35,31.33 L163.80,32.10 L165.25,32.89 L166.70,33.71 L168.15,34.56 L169.60,35.44 L171.05,36.34 L172.49,37.28 L173.94,38.25 L175.38,39.25 L176.83,40.29 L178.27,41.36 L179.71,42.46 L181.16,43.61 L182.60,44.79 L184.04,46.00 L185.49,47.25 L186.94,48.53 L188.40,49.86 L189.85,51.23 L191.30,52.65 L192.75,54.10 L194.20,55.61 L195.66,57.16 L197.11,58.76 L198.56,60.40 L200.02,62.10 L201.47,63.84 L202.92,65.64 L204.38,67.48 L205.83,69.38 L207.29,71.33 L208.75,73.33 L210.21,75.38 L211.68,77.47 L213.15,79.63 L214.62,81.83 L216.09,84.09 L217.56,86.39 L219.04,88.75 L220.51,91.17 L221.98,93.63 L223.45,96.14 L224.93,98.70 L226.40,101.30 L227.88,103.95 L229.35,106.64 L230.83,109.37 L232.30,112.14 L233.78,114.95 L235.26,117.79 L236.73,120.66 L238.21,123.56 L239.69,126.48 L241.17,129.42 L242.65,132.38 L244.13,135.35 L245.61,138.32 L247.09,141.30 L248.57,144.27 L250.05,147.24 L251.54,150.20 L253.02,153.14 L254.50,156.05 L255.99,158.94 L257.47,161.79 L258.96,164.60 L260.45,167.37 L261.93,170.09 L263.42,172.75 L264.91,175.35 L266.41,177.88 L267.90,180.35 L269.40,182.73 L270.89,185.04 L272.39,187.26 L273.89,189.40 L275.40,191.44 L276.91,193.40 L278.42,195.25 L279.93,197.01 L281.45,198.67 L282.97,200.24 L284.50,201.70 L286.02,203.07 L287.56,204.34 L289.09,205.52 L290.63,206.60 L292.18,207.58 L293.72,208.48 L295.27,209.29 L296.82,210.02 L298.37,210.67 L299.92,211.24 L301.47,211.75 L303.01,212.19 L304.56,212.57 L306.09,212.90 L307.62,213.18 L309.15,213.41 L310.67,213.61 L312.19,213.78 L313.70,213.91 L315.21,214.02 L316.72,214.11 L318.22,214.18 L319.72,214.23 L321.21,214.27 L322.70,214.31 L324.19,214.33 L325.68,214.35 L327.17,214.37 L328.65,214.38 L330.13,214.38 L331.62,214.39 L333.10,214.39 L334.58,214.39 L336.06,214.40 L337.55,214.40 L339.03,214.40 L340.51,214.40 L341.99,214.40 L343.47,214.40 L344.95,214.40 L346.43,214.40 L347.91,214.40 L349.39,214.40 L350.87,214.40 L352.35,214.40 L353.84,214.40 L355.32,214.40 L356.80,214.40 L358.28,214.40 L359.76,214.40 L361.24,214.40 L362.72,214.40 L364.20,214.40 L365.68,214.40 L367.16,214.40 L368.64,214.40 L370.12,214.40 L371.60,214.40 L373.08,214.40 L374.57,214.40 L376.05,214.40 L377.53,214.40 L379.01,214.40 L380.49,214.40 L381.97,214.40 L383.45,214.40 L384.93,214.40 L386.41,214.40 L387.89,214.40 L389.37,214.40 L390.85,214.40 L392.33,214.40 L393.82,214.40 L395.30,214.40 L396.78,214.40 L398.26,214.40 L399.74,214.40 L401.22,214.40 L402.70,214.40 A1.90,1.90 0 0 1 402.70,210.60 L401.22,210.60 L399.74,210.60 L398.26,210.60 L396.78,210.60 L395.30,210.60 L393.82,210.60 L392.33,210.60 L390.85,210.60 L389.37,210.60 L387.89,210.60 L386.41,210.60 L384.93,210.60 L383.45,210.60 L381.97,210.60 L380.49,210.60 L379.01,210.60 L377.53,210.60 L376.05,210.60 L374.57,210.60 L373.08,210.60 L371.60,210.60 L370.12,210.60 L368.64,210.60 L367.16,210.60 L365.68,210.60 L364.20,210.60 L362.72,210.60 L361.24,210.60 L359.76,210.60 L358.28,210.60 L356.80,210.60 L355.32,210.60 L353.84,210.60 L352.35,210.60 L350.87,210.60 L349.39,210.60 L347.91,210.60 L346.43,210.60 L344.95,210.60 L343.47,210.60 L341.99,210.60 L340.51,210.60 L339.03,210.60 L337.55,210.60 L336.07,210.60 L334.59,210.59 L333.11,210.59 L331.63,210.59 L330.15,210.58 L328.67,210.58 L327.20,210.57 L325.72,210.55 L324.25,210.53 L322.78,210.51 L321.31,210.47 L319.84,210.43 L318.38,210.38 L316.91,210.31 L315.46,210.23 L314.01,210.12 L312.56,210.00 L311.11,209.85 L309.67,209.67 L308.24,209.46 L306.81,209.21 L305.39,208.91 L303.96,208.57 L302.55,208.18 L301.13,207.73 L299.72,207.22 L298.31,206.64 L296.90,205.99 L295.49,205.26 L294.07,204.45 L292.65,203.56 L291.23,202.58 L289.81,201.50 L288.38,200.33 L286.94,199.06 L285.51,197.68 L284.07,196.20 L282.63,194.63 L281.18,192.94 L279.73,191.16 L278.27,189.28 L276.82,187.30 L275.36,185.22 L273.89,183.05 L272.43,180.80 L270.96,178.46 L269.50,176.04 L268.03,173.54 L266.56,170.98 L265.08,168.34 L263.61,165.65 L262.14,162.91 L260.66,160.12 L259.18,157.28 L257.71,154.41 L256.23,151.51 L254.75,148.58 L253.27,145.63 L251.79,142.67 L250.31,139.69 L248.83,136.72 L247.35,133.74 L245.87,130.77 L244.39,127.81 L242.90,124.86 L241.42,121.93 L239.94,119.02 L238.45,116.14 L236.97,113.28 L235.49,110.46 L234.00,107.67 L232.51,104.92 L231.03,102.21 L229.54,99.54 L228.05,96.91 L226.57,94.33 L225.08,91.79 L223.59,89.30 L222.10,86.86 L220.61,84.47 L219.12,82.14 L217.63,79.85 L216.14,77.61 L214.64,75.43 L213.15,73.29 L211.66,71.21 L210.15,69.19 L208.65,67.23 L207.14,65.31 L205.63,63.45 L204.13,61.63 L202.62,59.87 L201.11,58.16 L199.60,56.49 L198.09,54.88 L196.59,53.31 L195.08,51.79 L193.57,50.32 L192.06,48.89 L190.55,47.51 L189.04,46.17 L187.53,44.87 L186.02,43.62 L184.50,42.42 L182.98,41.26 L181.46,40.14 L179.94,39.06 L178.42,38.01 L176.91,37.01 L175.39,36.04 L173.87,35.10 L172.36,34.20 L170.84,33.33 L169.33,32.49 L167.82,31.68 L166.31,30.90 L164.80,30.15 L163.29,29.43 L161.78,28.73 L160.27,28.07 L158.76,27.44 L157.25,26.83 L155.74,26.25 L154.23,25.69 L152.73,25.16 L151.22,24.64 L149.72,24.15 L148.21,23.67 L146.71,23.22 L145.21,22.78 L143.71,22.36 L142.22,21.96 L140.72,21.57 L139.22,21.20 L137.73,20.85 L136.23,20.51 L134.74,20.18 L133.26,19.83 L131.78,19.49 L130.29,19.17 L128.81,18.85 L127.33,18.55 L125.84,18.27 L124.36,17.99 L122.88,17.72 L121.40,17.46 L119.91,17.22 L118.43,16.98 L116.95,16.75 L115.47,16.53 L113.98,16.32 L112.50,16.12 L111.02,15.92 L109.54,15.74 L108.06,15.56 L106.57,15.38 L105.09,15.22 L103.61,15.06 L102.13,14.90 L100.65,14.76 L99.17,14.62 L97.68,14.48 L96.20,14.35 L94.72,14.22 L93.24,14.10 L91.76,13.99 L90.28,13.87 L88.79,13.77 L87.31,13.67 L85.83,13.57 L84.35,13.47 L82.87,13.38 L81.39,13.29 L79.91,13.21 L78.43,13.13 L76.94,13.05 L75.46,12.98 L73.98,12.91 L72.50,12.84 L71.02,12.77 L69.54,12.71 L68.06,12.65 L66.58,12.59 L65.09,12.53 L63.61,12.48 L62.13,12.43 L60.65,12.38 L59.17,12.33 L57.69,12.29 L56.21,12.24 L54.73,12.20 L53.25,12.16 L51.77,12.12 L50.28,12.09 L48.80,12.05Z M48.80,12.20 L50.28,12.24 L51.76,12.28 L53.24,12.32 L54.72,12.36 L56.20,12.40 L57.68,12.45 L59.17,12.50 L60.65,12.54 L62.13,12.60 L63.61,12.65 L65.09,12.70 L66.57,12.76 L68.05,12.82 L69.53,12.88 L71.01,12.95 L72.49,13.02 L73.97,13.09 L75.45,13.16 L76.93,13.23 L78.42,13.31 L79.90,13.40 L81.38,13.48 L82.86,13.57 L84.34,13.66 L85.82,13.76 L87.30,13.86 L88.78,13.96 L90.26,14.07 L91.74,14.19 L93.22,14.30 L94.70,14.43 L96.18,14.55 L97.66,14.69 L99.15,14.82 L100.63,14.97 L102.11,15.12 L103.59,15.27 L105.07,15.43 L106.55,15.60 L108.03,15.77 L109.51,15.96 L110.99,16.14 L112.47,16.34 L113.95,16.55 L115.43,16.76 L116.91,16.98 L118.40,17.21 L119.88,17.45 L121.36,17.70 L122.84,17.95 L124.32,18.22 L125.80,18.50 L127.28,18.79 L128.76,19.09 L130.24,19.41 L131.72,19.73 L133.20,20.07 L134.68,20.42 L136.16,20.79 L137.65,21.17 L139.13,21.56 L140.61,21.97 L142.09,22.40 L143.57,22.84 L145.05,23.30 L146.53,23.78 L148.01,24.27 L149.49,24.78 L150.97,25.32 L152.45,25.87 L153.93,26.45 L155.41,27.04 L156.89,27.66 L158.38,28.31 L159.86,28.97 L161.33,29.68 L162.80,30.42 L164.27,31.18 L165.74,31.97 L167.21,32.78 L168.68,33.63 L170.15,34.50 L171.62,35.41 L173.08,36.35 L174.55,37.31 L176.02,38.32 L177.48,39.35 L178.95,40.42 L180.41,41.53 L181.88,42.68 L183.34,43.86 L184.81,45.08 L186.27,46.34 L187.74,47.63 L189.21,48.97 L190.68,50.35 L192.15,51.78 L193.62,53.24 L195.08,54.76 L196.55,56.32 L198.02,57.93 L199.49,59.59 L200.95,61.30 L202.42,63.05 L203.89,64.86 L205.35,66.72 L206.82,68.62 L208.29,70.58 L209.76,72.60 L211.23,74.65 L212.71,76.76 L214.19,78.93 L215.67,81.14 L217.14,83.41 L218.62,85.73 L220.10,88.10 L221.58,90.52 L223.06,92.99 L224.53,95.51 L226.01,98.08 L227.49,100.69 L228.97,103.34 L230.45,106.04 L231.93,108.78 L233.41,111.56 L234.89,114.37 L236.37,117.22 L237.85,120.09 L239.33,122.99 L240.81,125.92 L242.29,128.86 L243.77,131.82 L245.25,134.79 L246.73,137.76 L248.21,140.74 L249.69,143.72 L251.17,146.68 L252.65,149.64 L254.13,152.57 L255.62,155.48 L257.10,158.36 L258.58,161.21 L260.06,164.02 L261.55,166.77 L263.03,169.48 L264.51,172.13 L266.00,174.72 L267.48,177.24 L268.96,179.69 L270.45,182.06 L271.94,184.35 L273.42,186.55 L274.91,188.67 L276.40,190.69 L277.89,192.62 L279.38,194.45 L280.87,196.18 L282.36,197.82 L283.85,199.35 L285.34,200.79 L286.82,202.15 L288.30,203.40 L289.79,204.56 L291.28,205.63 L292.77,206.61 L294.26,207.49 L295.76,208.30 L297.26,209.02 L298.76,209.67 L300.26,210.25 L301.77,210.76 L303.27,211.21 L304.77,211.60 L306.28,211.94 L307.78,212.24 L309.28,212.49 L310.78,212.71 L312.28,212.88 L313.78,213.01 L315.27,213.12 L316.76,213.21 L318.26,213.28 L319.75,213.33 L321.23,213.37 L322.72,213.41 L324.21,213.43 L325.69,213.45 L327.17,213.47 L328.66,213.48 L330.14,213.48 L331.62,213.49 L333.10,213.49 L334.58,213.49 L336.07,213.50 L337.55,213.50 L339.03,213.50 L340.51,213.50 L341.99,213.50 L343.47,213.50 L344.95,213.50 L346.43,213.50 L347.91,213.50 L349.39,213.50 L350.87,213.50 L352.35,213.50 L353.84,213.50 L355.32,213.50 L356.80,213.50 L358.28,213.50 L359.76,213.50 L361.24,213.50 L362.72,213.50 L364.20,213.50 L365.68,213.50 L367.16,213.50 L368.64,213.50 L370.12,213.50 L371.60,213.50 L373.08,213.50 L374.57,213.50 L376.05,213.50 L377.53,213.50 L379.01,213.50 L380.49,213.50 L381.97,213.50 L383.45,213.50 L384.93,213.50 L386.41,213.50 L387.89,213.50 L389.37,213.50 L390.85,213.50 L392.33,213.50 L393.82,213.50 L395.30,213.50 L396.78,213.50 L398.26,213.50 L399.74,213.50 L401.22,213.50 L402.70,213.50 A1.00,1.00 0 0 1 402.70,211.50 L401.22,211.50 L399.74,211.50 L398.26,211.50 L396.78,211.50 L395.30,211.50 L393.82,211.50 L392.33,211.50 L390.85,211.50 L389.37,211.50 L387.89,211.50 L386.41,211.50 L384.93,211.50 L383.45,211.50 L381.97,211.50 L380.49,211.50 L379.01,211.50 L377.53,211.50 L376.05,211.50 L374.57,211.50 L373.08,211.50 L371.60,211.50 L370.12,211.50 L368.64,211.50 L367.16,211.50 L365.68,211.50 L364.20,211.50 L362.72,211.50 L361.24,211.50 L359.76,211.50 L358.28,211.50 L356.80,211.50 L355.32,211.50 L353.84,211.50 L352.35,211.50 L350.87,211.50 L349.39,211.50 L347.91,211.50 L346.43,211.50 L344.95,211.50 L343.47,211.50 L341.99,211.50 L340.51,211.50 L339.03,211.50 L337.55,211.50 L336.07,211.50 L334.59,211.49 L333.11,211.49 L331.63,211.49 L330.15,211.48 L328.67,211.48 L327.19,211.47 L325.71,211.45 L324.23,211.43 L322.76,211.41 L321.28,211.37 L319.81,211.33 L318.34,211.28 L316.87,211.21 L315.40,211.13 L313.93,211.02 L312.47,210.89 L311.01,210.76 L309.54,210.59 L308.08,210.40 L306.62,210.16 L305.17,209.88 L303.71,209.55 L302.25,209.17 L300.79,208.72 L299.33,208.21 L297.87,207.63 L296.41,206.98 L294.95,206.25 L293.48,205.43 L292.01,204.53 L290.54,203.53 L289.06,202.44 L287.58,201.25 L286.10,199.97 L284.63,198.57 L283.16,197.06 L281.69,195.45 L280.22,193.75 L278.75,191.94 L277.28,190.03 L275.80,188.03 L274.33,185.93 L272.85,183.74 L271.38,181.47 L269.90,179.11 L268.42,176.68 L266.95,174.17 L265.47,171.59 L263.99,168.95 L262.51,166.25 L261.03,163.50 L259.55,160.70 L258.07,157.86 L256.60,154.98 L255.12,152.07 L253.64,149.14 L252.16,146.19 L250.67,143.23 L249.19,140.25 L247.71,137.27 L246.23,134.30 L244.75,131.33 L243.27,128.37 L241.79,125.42 L240.31,122.50 L238.83,119.59 L237.34,116.71 L235.86,113.86 L234.38,111.05 L232.90,108.26 L231.42,105.52 L229.93,102.81 L228.45,100.15 L226.97,97.53 L225.49,94.96 L224.00,92.43 L222.52,89.95 L221.04,87.52 L219.55,85.14 L218.07,82.81 L216.58,80.54 L215.10,78.31 L213.62,76.14 L212.13,74.02 L210.65,71.95 L209.15,69.94 L207.66,67.98 L206.17,66.08 L204.67,64.22 L203.18,62.42 L201.68,60.67 L200.19,58.97 L198.69,57.32 L197.20,55.71 L195.71,54.16 L194.21,52.65 L192.72,51.19 L191.23,49.77 L189.73,48.40 L188.24,47.07 L186.75,45.79 L185.25,44.54 L183.75,43.35 L182.26,42.19 L180.76,41.07 L179.26,39.99 L177.77,38.95 L176.27,37.94 L174.78,36.97 L173.28,36.03 L171.79,35.13 L170.29,34.26 L168.80,33.42 L167.31,32.61 L165.82,31.82 L164.33,31.07 L162.84,30.35 L161.35,29.65 L159.86,28.97 L158.38,28.31 L156.89,27.66 L155.41,27.04 L153.93,26.45 L152.45,25.87 L150.97,25.32 L149.49,24.78 L148.01,24.27 L146.53,23.78 L145.05,23.30 L143.57,22.84 L142.09,22.40 L140.61,21.97 L139.13,21.56 L137.65,21.17 L136.16,20.79 L134.68,20.42 L133.20,20.07 L131.72,19.73 L130.24,19.41 L128.76,19.09 L127.28,18.79 L125.80,18.50 L124.32,18.22 L122.84,17.95 L121.36,17.70 L119.88,17.45 L118.40,17.21 L116.91,16.98 L115.43,16.76 L113.95,16.55 L112.47,16.34 L110.99,16.14 L109.51,15.96 L108.03,15.77 L106.55,15.60 L105.07,15.43 L103.59,15.27 L102.11,15.12 L100.63,14.97 L99.15,14.82 L97.66,14.69 L96.18,14.55 L94.70,14.43 L93.22,14.30 L91.74,14.19 L90.26,14.07 L88.78,13.96 L87.30,13.86 L85.82,13.76 L84.34,13.66 L82.86,13.57 L81.38,13.48 L79.90,13.40 L78.42,13.31 L76.93,13.23 L75.45,13.16 L73.97,13.09 L72.49,13.02 L71.01,12.95 L69.53,12.88 L68.05,12.82 L66.57,12.76 L65.09,12.70 L63.61,12.65 L62.13,12.60 L60.65,12.54 L59.17,12.50 L57.68,12.45 L56.20,12.40 L54.72,12.36 L53.24,12.32 L51.76,12.28 L50.28,12.24 L48.80,12.20Z" fill="#f8a824" fill-rule="evenodd" stroke="none"/>
<path d="M48.80,11.73 L50.28,11.75 L51.76,11.77 L53.24,11.79 L54.72,11.82 L56.20,11.84 L57.68,11.87 L59.17,11.90 L60.65,11.93 L62.13,11.97 L63.61,12.01 L65.09,12.05 L66.57,12.09 L68.05,12.13 L69.53,12.18 L71.01,12.24 L72.49,12.29 L73.97,12.35 L75.45,12.42 L76.93,12.48 L78.42,12.56 L79.90,12.63 L81.38,12.72 L82.86,12.80 L84.34,12.89 L85.82,12.99 L87.30,13.09 L88.78,13.20 L90.26,13.31 L91.74,13.43 L93.22,13.55 L94.70,13.68 L96.18,13.81 L97.66,13.95 L99.15,14.09 L100.63,14.24 L102.11,14.39 L103.59,14.54 L105.07,14.70 L106.55,14.85 L108.03,15.02 L109.51,15.18 L110.99,15.34 L112.47,15.51 L113.95,15.68 L115.43,15.85 L116.91,16.03 L118.40,16.20 L119.88,16.38 L121.36,16.56 L122.84,16.75 L124.32,16.95 L125.80,17.15 L127.28,17.36 L128.76,17.58 L130.24,17.82 L131.72,18.06 L133.20,18.32 L134.68,18.60 L136.16,18.90 L137.65,19.21 L139.13,19.54 L140.61,19.90 L142.09,20.27 L143.57,20.67 L145.05,21.09 L146.53,21.53 L148.01,22.00 L149.49,22.49 L150.97,23.01 L152.45,23.55 L153.93,24.11 L155.41,24.70 L156.89,25.31 L158.38,25.95 L159.86,26.60 L161.34,27.28 L162.82,27.97 L164.30,28.68 L165.78,29.41 L167.26,30.15 L168.74,30.90 L170.22,31.66 L171.70,32.44 L173.18,33.22 L174.66,34.01 L176.14,34.81 L177.63,35.62 L179.11,36.44 L180.59,37.27 L182.07,38.11 L183.55,38.97 L185.03,39.84 L186.51,40.73 L187.99,41.65 L189.47,42.59 L190.95,43.56 L192.43,44.56 L193.91,45.60 L195.39,46.66 L196.88,47.76 L198.36,48.90 L199.84,50.06 L201.32,51.26 L202.80,52.49 L204.28,53.74 L205.76,55.02 L207.24,56.32 L208.72,57.65 L210.20,58.99 L211.68,60.34 L213.16,61.71 L214.64,63.08 L216.13,64.46 L217.61,65.85 L219.09,67.24 L220.57,68.63 L222.05,70.03 L223.53,71.43 L225.01,72.83 L226.49,74.24 L227.97,75.65 L229.45,77.07 L230.93,78.49 L232.41,79.93 L233.89,81.37 L235.37,82.81 L236.86,84.27 L238.34,85.73 L239.82,87.20 L241.30,88.68 L242.78,90.16 L244.26,91.65 L245.74,93.14 L247.22,94.64 L248.70,96.14 L250.18,97.65 L251.66,99.16 L253.14,100.67 L254.62,102.19 L256.11,103.70 L257.59,105.22 L259.07,106.73 L260.55,108.25 L262.03,109.76 L263.51,111.27 L264.99,112.77 L266.47,114.27 L267.95,115.77 L269.43,117.27 L270.91,118.77 L272.39,120.26 L273.87,121.74 L275.36,123.22 L276.84,124.70 L278.32,126.17 L279.80,127.63 L281.28,129.08 L282.76,130.52 L284.24,131.94 L285.72,133.36 L287.20,134.76 L288.68,136.15 L290.16,137.53 L291.64,138.89 L293.12,140.24 L294.61,141.57 L296.09,142.88 L297.57,144.17 L299.05,145.44 L300.53,146.68 L302.01,147.90 L303.49,149.10 L304.97,150.27 L306.45,151.41 L307.93,152.53 L309.41,153.62 L310.89,154.68 L312.37,155.72 L313.85,156.73 L315.34,157.71 L316.82,158.67 L318.30,159.61 L319.78,160.52 L321.26,161.41 L322.74,162.28 L324.22,163.12 L325.70,163.96 L327.18,164.78 L328.66,165.59 L330.14,166.39 L331.62,167.19 L333.10,167.98 L334.59,168.77 L336.07,169.56 L337.55,170.35 L339.03,171.14 L340.51,171.92 L341.99,172.70 L343.47,173.47 L344.95,174.24 L346.43,174.99 L347.91,175.73 L349.39,176.46 L350.87,177.17 L352.35,177.87 L353.84,178.55 L355.32,179.21 L356.80,179.85 L358.28,180.47 L359.76,181.07 L361.24,181.66 L362.72,182.23 L364.20,182.79 L365.68,183.34 L367.16,183.88 L368.64,184.43 L370.12,184.97 L371.60,185.51 L373.08,186.06 L374.57,186.61 L376.05,187.17 L377.53,187.73 L379.01,188.30 L380.49,188.87 L381.97,189.43 L383.45,190.00 L384.93,190.55 L386.41,191.09 L387.89,191.62 L389.37,192.13 L390.85,192.61 L392.33,193.06 L393.82,193.49 L395.30,193.88 L396.78,194.24 L398.26,194.56 L399.74,194.84 L401.22,195.09 L402.70,195.30" fill="none" stroke="#1ce6fa" stroke-width="1.6" stroke-linejoin="round" stroke-linecap="round"/>
</svg>
</body></html>
